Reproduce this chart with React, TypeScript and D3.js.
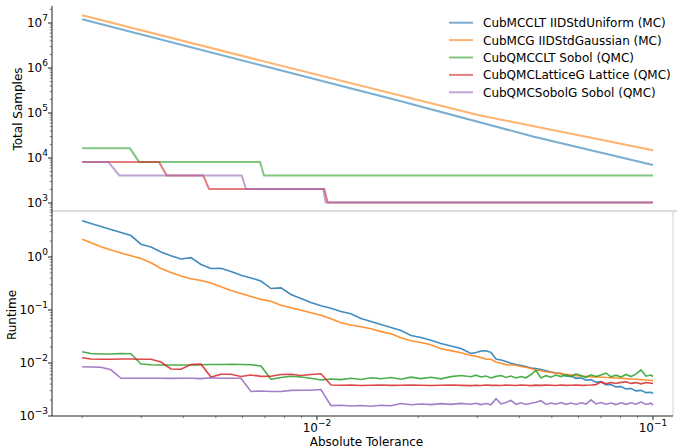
import * as d3 from 'd3';

const width = 677;
const height = 448;

const seriesNames = [
  'CubMCCLT IIDStdUniform (MC)',
  'CubMCG IIDStdGaussian (MC)',
  'CubQMCCLT Sobol (QMC)',
  'CubQMCLatticeG Lattice (QMC)',
  'CubQMCSobolG Sobol (QMC)',
];
const colors = ['#1f77b4', '#ff7f0e', '#2ca02c', '#d62728', '#9467bd'];

// total samples (top panel)
const samplesTol0 = [0.002, 0.006767, 0.01766, 0.04394, 0.1];
const samplesMCCLT = [1.208e7, 1.166e6, 1.848e5, 3.005e4, 6.99e3];
const samplesTol1 = [0.002, 0.006629, 0.03014, 0.1];
const samplesMCG = [1.483e7, 1.537e6, 9.03e4, 1.483e4];
const samplesTol2 = [0.002, 0.002777, 0.002953, 0.006767, 0.006958, 0.1];
const samplesQMCCLT = [16384, 16384, 8192, 8192, 4096, 4096];
const samplesTol3 = [0.002, 0.003387, 0.003571, 0.004587, 0.004771, 0.010512, 0.010759, 0.1];
const samplesLattice = [8192, 8192, 4096, 4096, 2048, 2048, 1024, 1024];
const samplesTol4 = [0.002, 0.002393, 0.00258, 0.00597, 0.006149, 0.01044, 0.010614, 0.1];
const samplesSobolG = [8192, 8192, 4096, 4096, 2048, 2048, 1024, 1024];

// runtime (bottom panel)
const tolGrid = [
  0.002, 0.002125, 0.002276, 0.002437, 0.00261, 0.002795, 0.002993, 0.003206, 0.003433, 0.003676,
  0.003937, 0.004217, 0.004516, 0.004836, 0.005179, 0.005546, 0.00594, 0.006361, 0.006812, 0.007296,
  0.007813, 0.008367, 0.00896, 0.009596, 0.010277, 0.011006, 0.011786, 0.012622, 0.013518, 0.014477,
  0.015503, 0.016603, 0.017783, 0.019044, 0.020394, 0.021842, 0.023389, 0.02505, 0.026827, 0.028727,
  0.029728, 0.03077, 0.031842, 0.032956, 0.034104, 0.035291, 0.036517, 0.03779, 0.039109, 0.040466,
  0.041879, 0.04334, 0.04485, 0.046416, 0.048017, 0.049692, 0.051425, 0.05322, 0.055077, 0.057016,
  0.058998, 0.061054, 0.063184, 0.065388, 0.06767, 0.070023, 0.072461, 0.074989, 0.077608, 0.080316,
  0.0831, 0.085997, 0.088999, 0.092106, 0.095321, 0.098628, 0.1,
];
const runtimeMCCLT = [
  4.84, 4.29, 3.76, 3.3, 2.9, 2.54, 1.744, 1.544, 1.243, 1.058,
  0.917, 0.97, 0.722, 0.607, 0.612, 0.533, 0.452, 0.402, 0.352, 0.254,
  0.262, 0.196, 0.165, 0.1385, 0.12, 0.1076, 0.0937, 0.0848, 0.0691, 0.0607,
  0.0533, 0.0467, 0.041, 0.033, 0.0303, 0.0268, 0.0233, 0.0209, 0.01877, 0.0151,
  0.01578, 0.01684, 0.01706, 0.01578, 0.0119, 0.01139, 0.01067, 0.00987, 0.00937, 0.00897,
  0.00859, 0.00805, 0.00788, 0.00754, 0.00716, 0.00676, 0.00648, 0.00633, 0.00566, 0.00573,
  0.00514, 0.00525, 0.00473, 0.00486, 0.00435, 0.00436, 0.0039, 0.00392, 0.00354, 0.00359,
  0.00325, 0.0033, 0.00298, 0.00305, 0.00276, 0.0028, 0.00266,
];
const runtimeMCG = [
  2.158, 1.853, 1.564, 1.355, 1.19, 1.053, 0.933, 0.777, 0.607, 0.51,
  0.438, 0.388, 0.359, 0.323, 0.274, 0.233, 0.2056, 0.1798, 0.1585, 0.1459,
  0.1232, 0.11, 0.0991, 0.0886, 0.0794, 0.0685, 0.0573, 0.0521, 0.0482, 0.0442,
  0.0391, 0.0356, 0.03, 0.0262, 0.0244, 0.0222, 0.01853, 0.01714, 0.01558, 0.01391,
  0.01338, 0.01264, 0.01174, 0.0118, 0.01044, 0.00991, 0.00933, 0.00917, 0.00905, 0.00859,
  0.0083, 0.00788, 0.00738, 0.00712, 0.00685, 0.00671, 0.00648, 0.00631, 0.00609, 0.00594,
  0.00578, 0.00568, 0.00561, 0.00554, 0.00547, 0.0054, 0.00532, 0.00526, 0.00521, 0.00514,
  0.00508, 0.00499, 0.00493, 0.00486, 0.00478, 0.00469, 0.00465,
];
const runtimeQMCCLT = [
  0.01634, 0.0151, 0.01478, 0.01478, 0.0151, 0.01491, 0.00957, 0.00925, 0.00917, 0.00917,
  0.00917, 0.00917, 0.00925, 0.00937, 0.00937, 0.00945, 0.00937, 0.00925, 0.00878, 0.00493,
  0.00532, 0.00561, 0.00544, 0.00514, 0.00478, 0.00499, 0.00486, 0.00516, 0.00488, 0.00526,
  0.00503, 0.00532, 0.00495, 0.0054, 0.00508, 0.00537, 0.00503, 0.00554, 0.00581, 0.00549,
  0.00589, 0.00544, 0.00568, 0.00521, 0.00559, 0.00581, 0.00535, 0.00568, 0.00521, 0.00556,
  0.00526, 0.00607, 0.00722, 0.00521, 0.00578, 0.0054, 0.00594, 0.00554, 0.00599, 0.00549,
  0.00625, 0.00581, 0.00532, 0.00599, 0.00554, 0.00594, 0.00642, 0.00549, 0.00589, 0.00544,
  0.00607, 0.00556, 0.00615, 0.00738, 0.00564, 0.00594, 0.00556,
];
const runtimeLattice = [
  0.01259, 0.0119, 0.01174, 0.01179, 0.0119, 0.0119, 0.01179, 0.01174, 0.01044, 0.0077,
  0.00764, 0.00937, 0.0095, 0.00544, 0.00612, 0.00612, 0.00556, 0.00594, 0.00559, 0.00564,
  0.00607, 0.00612, 0.00581, 0.00607, 0.00625, 0.00385, 0.00381, 0.00385, 0.00376, 0.0038,
  0.00385, 0.00378, 0.00381, 0.00385, 0.0038, 0.00376, 0.00381, 0.00385, 0.00378, 0.00374,
  0.0038, 0.00376, 0.00385, 0.00378, 0.00381, 0.00376, 0.00385, 0.0038, 0.00376, 0.00385,
  0.0038, 0.00374, 0.00383, 0.00378, 0.00385, 0.0038, 0.00376, 0.00385, 0.00378, 0.00381,
  0.00385, 0.00378, 0.00381, 0.00385, 0.00391, 0.00444, 0.00405, 0.00427, 0.0041, 0.00431,
  0.00442, 0.00412, 0.00427, 0.00405, 0.00429, 0.00416, 0.0041,
];
const runtimeSobolG = [
  0.00852, 0.0084, 0.00833, 0.00744, 0.00514, 0.00514, 0.00514, 0.00514, 0.00514, 0.00512,
  0.00514, 0.00514, 0.00508, 0.00526, 0.00514, 0.00516, 0.00514, 0.0029, 0.00296, 0.00289,
  0.0029, 0.00304, 0.00307, 0.00307, 0.00316, 0.00157, 0.0016, 0.00154, 0.00158, 0.00153,
  0.00159, 0.00156, 0.00172, 0.00163, 0.00168, 0.00164, 0.00171, 0.00166, 0.00173, 0.00167,
  0.00174, 0.00164, 0.00172, 0.00163, 0.00211, 0.00169, 0.0018, 0.00196, 0.00166, 0.00177,
  0.00165, 0.00174, 0.00182, 0.00194, 0.00165, 0.00176, 0.00167, 0.00179, 0.00166, 0.00176,
  0.00165, 0.00178, 0.00168, 0.00202, 0.00169, 0.0018, 0.00167, 0.00176, 0.00164, 0.00177,
  0.00166, 0.00178, 0.00167, 0.00185, 0.00165, 0.00174, 0.00161,
];

const topExps = [3, 4, 5, 6, 7];
const botExps = [-3, -2, -1, 0];
const xExps = [-2, -1];

const FONT = 'DejaVu Sans, sans-serif';
const FS = 12;
const L = 52;
const R = 673;

const zip = (a: number[], b: number[]) => a.map((v, i) => [v, b[i]] as [number, number]);

const minorTicks = (lo: number, hi: number) => {
  const out: number[] = [];
  for (let k = Math.floor(Math.log10(lo)); k <= Math.ceil(Math.log10(hi)); k++) {
    for (let m = 2; m <= 9; m++) {
      const v = m * Math.pow(10, k);
      if (v >= lo && v <= hi) out.push(v);
    }
  }
  return out;
};

const expText = (e: number) => (e < 0 ? '\u2212' + Math.abs(e) : String(e));

export default function App() {
  const x = d3.scaleLog().domain([0.001627, 0.1147]).range([L, R]);
  const yTop = d3.scaleLog().domain([664, 2.39e7]).range([211, 6]);
  const yBot = d3.scaleLog().domain([1e-3, 7.38]).range([416, 211]);

  const lineTop = d3
    .line<[number, number]>()
    .x((d) => x(d[0]))
    .y((d) => yTop(d[1]));
  const lineBot = d3
    .line<[number, number]>()
    .x((d) => x(d[0]))
    .y((d) => yBot(d[1]));

  const topSeries = [
    zip(samplesTol0, samplesMCCLT),
    zip(samplesTol1, samplesMCG),
    zip(samplesTol2, samplesQMCCLT),
    zip(samplesTol3, samplesLattice),
    zip(samplesTol4, samplesSobolG),
  ];
  const botSeries = [runtimeMCCLT, runtimeMCG, runtimeQMCCLT, runtimeLattice, runtimeSobolG].map(
    (vals) => zip(tolGrid, vals)
  );

  const yTopMinor = minorTicks(664, 2.39e7);
  const yBotMinor = minorTicks(1e-3, 7.38);
  const xMinor = minorTicks(0.001627, 0.1147);

  const powLabel = (e: number, px: number, py: number, anchor: string, key: string) => (
    <text key={key} x={px} y={py} textAnchor={anchor} fontSize={FS}>
      10<tspan dy={-6} fontSize={9}>{expText(e)}</tspan>
    </text>
  );

  return (
    <svg
      width={width}
      height={height}
      style={{ position: 'absolute', left: 0, top: 0, display: 'block' }}
      fontFamily={FONT}
    >
      <rect width={width} height={height} fill="#fff" />

      {/* panel frames */}
      <line x1={L} x2={677} y1={211} y2={211} stroke="#d0d0d0" strokeWidth={1.5} />
      <line x1={R} x2={R} y1={211} y2={416} stroke="#d0d0d0" strokeWidth={1} />
      <line x1={L} x2={L} y1={6} y2={416} stroke="#222" strokeWidth={1} />
      <line x1={L} x2={R} y1={416} y2={416} stroke="#222" strokeWidth={1} />

      {/* top panel lines */}
      {topSeries.map((s, i) => (
        <path key={'t' + i} d={lineTop(s) || ''} fill="none" stroke={colors[i]} strokeWidth={2} strokeOpacity={0.6} />
      ))}

      {/* bottom panel lines */}
      {botSeries.map((s, i) => (
        <path key={'b' + i} d={lineBot(s) || ''} fill="none" stroke={colors[i]} strokeWidth={1.6} strokeOpacity={0.85} />
      ))}

      {/* y ticks top */}
      {topExps.map((e) => {
        const ty = yTop(Math.pow(10, e));
        return (
          <g key={'yt' + e}>
            <line x1={L - 4} x2={L} y1={ty} y2={ty} stroke="#222" />
            {powLabel(e, 48, ty + 4.4, 'end', 'ytl' + e)}
          </g>
        );
      })}
      {yTopMinor.map((v) => (
        <line key={'ytm' + v} x1={L - 2.2} x2={L} y1={yTop(v)} y2={yTop(v)} stroke="#444" strokeWidth={0.7} />
      ))}

      {/* y ticks bottom */}
      {botExps.map((e) => {
        const ty = yBot(Math.pow(10, e));
        return (
          <g key={'yb' + e}>
            <line x1={L - 4} x2={L} y1={ty} y2={ty} stroke="#222" />
            {powLabel(e, 48, ty + 4.4, 'end', 'ybl' + e)}
          </g>
        );
      })}
      {yBotMinor.map((v) => (
        <line key={'ybm' + v} x1={L - 2.2} x2={L} y1={yBot(v)} y2={yBot(v)} stroke="#444" strokeWidth={0.7} />
      ))}

      {/* x ticks */}
      {xExps.map((e) => {
        const tx = x(Math.pow(10, e));
        return (
          <g key={'x' + e}>
            <line x1={tx} x2={tx} y1={416} y2={420} stroke="#222" />
            {powLabel(e, tx, 431.5, 'middle', 'xl' + e)}
          </g>
        );
      })}
      {xMinor.map((v) => (
        <line key={'xm' + v} x1={x(v)} x2={x(v)} y1={416} y2={418.2} stroke="#444" strokeWidth={0.7} />
      ))}

      {/* axis labels */}
      <text x={(L + 681) / 2} y={446} textAnchor="middle" fontSize={FS}>
        Absolute Tolerance
      </text>
      <text transform={`translate(21.5,109) rotate(-90)`} textAnchor="middle" fontSize={FS}>
        Total Samples
      </text>
      <text transform={`translate(16,315) rotate(-90)`} textAnchor="middle" fontSize={FS}>
        Runtime
      </text>

      {/* legend */}
      {seriesNames.map((name, i) => {
        const ly = 22.7 + i * 17.4;
        return (
          <g key={'lg' + i}>
            <line x1={449} x2={473} y1={ly} y2={ly} stroke={colors[i]} strokeWidth={2} strokeOpacity={0.6} />
            <text x={483} y={ly + 4.4} fontSize={FS}>
              {name}
            </text>
          </g>
        );
      })}
    </svg>
  );
}
